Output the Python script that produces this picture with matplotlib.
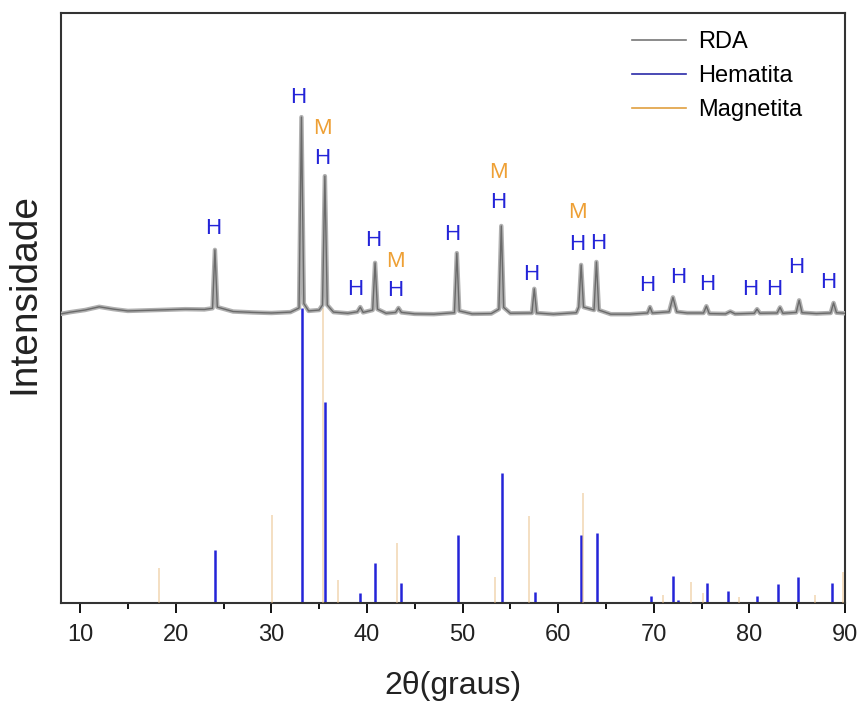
import matplotlib
matplotlib.use("Agg")
import matplotlib.pyplot as plt
from matplotlib.lines import Line2D
from matplotlib.ticker import MultipleLocator

# measured RDA pattern (2theta, intensity in a.u.)
rda_x = [8.0, 9.0, 10.5, 12.0, 13.5, 15.0, 17.0, 19.0, 21.0, 23.0, 23.85, 24.1, 24.35,
         26.0, 28.0, 30.0, 32.0, 32.9, 33.15, 33.4, 33.9, 35.0, 35.35, 35.6, 35.85,
         36.5, 38.0, 39.0, 39.3, 39.6, 40.6, 40.85, 41.1, 42.0, 43.0, 43.3, 43.6,
         45.0, 47.0, 49.15, 49.4, 49.65, 51.0, 53.0, 53.8, 54.05, 54.3, 55.0, 57.25,
         57.5, 57.75, 59.5, 61.9, 62.15, 62.4, 62.65, 63.75, 64.0, 64.25, 65.5, 67.5,
         69.35, 69.6, 69.85, 71.6, 72.0, 72.4, 73.5, 75.2, 75.5, 75.8, 77.5, 78.0,
         78.5, 80.5, 80.8, 81.1, 82.9, 83.2, 83.5, 84.9, 85.2, 85.5, 87.0, 88.5,
         88.8, 89.1, 90.0]
rda_y = [98.0, 98.6, 99.3, 100.4, 99.6, 99.0, 99.2, 99.4, 99.6, 99.5, 99.9, 119.7, 100.3,
         98.8, 98.5, 98.3, 98.6, 100.0, 164.7, 101.5, 99.0, 99.3, 101.0, 144.7, 101.0,
         98.6, 98.2, 98.7, 100.3, 98.5, 99.3, 115.3, 99.6, 98.2, 98.5, 100.0, 98.5,
         98.0, 97.9, 98.4, 118.6, 99.0, 98.0, 98.1, 99.6, 127.8, 100.2, 98.2, 98.3,
         106.5, 98.3, 97.9, 98.4, 100.3, 114.6, 100.3, 99.3, 115.6, 99.3, 97.9, 97.9,
         98.3, 100.3, 98.3, 98.7, 103.6, 98.7, 98.3, 98.3, 100.6, 98.1, 98.0, 98.8,
         98.0, 98.2, 99.6, 98.2, 98.3, 100.2, 98.2, 98.5, 102.6, 98.4, 98.1, 98.3,
         101.7, 98.4, 98.2]

# reference patterns (relative intensity, %)
hem_pos = [24.1, 33.2, 35.6, 39.3, 40.8, 43.6, 49.5, 54.1, 57.6, 62.4, 64.1,
           69.7, 72.0, 72.5, 75.6, 77.8, 80.8, 83.0, 85.1, 88.6]
hem_int = [18, 100, 68, 3.4, 13.6, 6.8, 23, 44, 3.7, 23, 23.7,
           2.4, 9.2, 1, 6.8, 4, 2.4, 6.4, 8.8, 6.8]
mag_pos = [18.3, 30.1, 35.4, 37.0, 43.1, 53.4, 56.9, 62.6, 71.0, 73.9, 75.1, 78.9, 86.9, 89.8]
mag_int = [11.9, 29.8, 100, 7.8, 20.3, 8.8, 29.5, 37.3, 2.7, 7.1, 3.4, 2, 2.7, 10.5]

# phase labels above the peaks
lab_text = ['H', 'H', 'M', 'H', 'H', 'H', 'M', 'H', 'H', 'M', 'H', 'H', 'M', 'H', 'H',
            'H', 'H', 'H', 'H', 'H', 'H', 'H']
lab_x = [23.96, 32.8, 35.3, 35.3, 38.8, 40.7, 43.0, 43.0, 48.95, 53.7, 53.7, 57.2,
         62.0, 62.0, 64.2, 69.3, 72.5, 75.6, 80.1, 82.6, 84.9, 88.2]
lab_y = [126.8, 171.5, 161.0, 150.8, 106.1, 123.0, 115.6, 105.8, 125.0, 146.0, 135.6, 111.5,
         132.2, 121.4, 122.0, 107.5, 110.2, 108.1, 106.1, 106.1, 113.6, 108.5]

blue = '#2424d8'
orange = '#eea035'
font = ['Liberation Sans', 'DejaVu Sans']

fig = plt.figure(figsize=(8.6, 7.05), dpi=100)
ax = fig.add_axes([0.0709, 0.1447, 0.9117, 0.8369])

ax.vlines(hem_pos, 0, hem_int, color=blue, linewidth=1.8, zorder=2)
ax.vlines(mag_pos, 0, mag_int, color='#e8b878', linewidth=1.4, alpha=0.45, zorder=3)
# noisy band look: light wide stroke under a thin dark one
ax.plot(rda_x, rda_y, color='#b0b0b0', linewidth=3.2, zorder=4)
ax.plot(rda_x, rda_y, color='#6a6a6a', linewidth=1.0, zorder=5)

for t, x, y in zip(lab_text, lab_x, lab_y):
    ax.text(x, y, t, color=blue if t == 'H' else orange, fontsize=16,
            family=font, ha='center', va='center', zorder=6)

ax.set_xlim(8, 90)
ax.set_ylim(0, 200)
ax.xaxis.set_major_locator(MultipleLocator(10))
ax.xaxis.set_minor_locator(MultipleLocator(5))
ax.tick_params(axis='x', which='major', direction='out', length=7, width=1.3, pad=8)
ax.tick_params(axis='x', which='minor', direction='out', length=4, width=1.3)
ax.set_yticks([])
for lbl in ax.get_xticklabels():
    lbl.set_fontfamily(font)
    lbl.set_fontsize(17)
    lbl.set_color('#222222')
for spine in ax.spines.values():
    spine.set_linewidth(1.5)
    spine.set_color('#333333')

ax.set_xlabel('2\u03b8(graus)', fontsize=23, family=font, labelpad=18, color='#222222')
ax.set_ylabel('Intensidade', fontsize=28, family=font, color='#222222')
ax.yaxis.set_label_coords(-0.024, 0.525)

handles = [Line2D([], [], color='#777777', linewidth=1.2),
           Line2D([], [], color='#2a2aa8', linewidth=1.2),
           Line2D([], [], color='#e0a040', linewidth=1.2)]
ax.legend(handles, ['RDA', 'Hematita', 'Magnetita'], loc='upper left', frameon=False,
          prop={'family': font, 'size': 17}, handlelength=2.3, handletextpad=0.5,
          labelspacing=0.5, borderaxespad=0, bbox_to_anchor=(0.716, 0.985))

fig.savefig('out.png', dpi=100)
